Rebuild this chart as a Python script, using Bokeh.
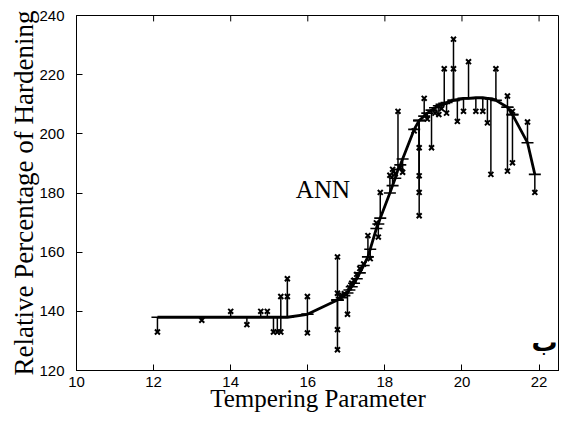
from bokeh.plotting import figure
from bokeh.models import Label, FixedTicker, Range1d, ColumnDataSource
from bokeh.embed import file_html
from bokeh.resources import INLINE

# Tempering parameter of each sample
temper_param = [12.10, 13.25, 14.00, 14.42, 14.78, 14.95, 15.11, 15.21, 15.30, 15.30,
                15.47, 15.47, 15.99, 15.99, 16.77, 16.77, 16.77, 16.77, 16.88, 16.95,
                17.03, 17.08, 17.14, 17.20, 17.27, 17.35, 17.45, 17.56, 17.62, 17.78,
                17.83, 17.88, 18.13, 18.20, 18.27, 18.34, 18.40, 18.46, 18.76, 18.89,
                18.89, 18.89, 18.89, 19.02, 19.10, 19.21, 19.30, 19.40, 19.47, 19.54,
                19.60, 19.78, 19.78, 19.88, 20.04, 20.17, 20.36, 20.54, 20.66, 20.75,
                20.88, 21.18, 21.18, 21.31, 21.31, 21.70, 21.89]
# Measured relative percentage of hardening
measured = [133.0, 137.0, 140.0, 135.5, 140.0, 140.0, 133.0, 133.0, 133.0, 145.0,
            145.0, 151.0, 145.0, 132.7, 158.4, 146.1, 133.8, 127.0, 145.5, 146.0,
            139.0, 148.0, 149.5, 150.5, 152.5, 154.5, 156.0, 165.6, 157.8, 169.9,
            165.1, 180.2, 186.0, 188.0, 186.5, 207.6, 188.5, 187.0, 201.0, 195.3,
            185.8, 180.2, 172.3, 212.0, 205.0, 195.3, 207.0, 206.5, 208.5, 222.0,
            207.0, 232.0, 222.0, 204.2, 207.6, 224.4, 207.6, 207.6, 203.7, 186.3,
            222.0, 212.8, 187.4, 190.2, 207.6, 204.0, 180.2]
# ANN predicted values
predicted = [138.0, 138.0, 138.0, 138.0, 138.0, 138.0, 138.0, 138.0, 138.0, 138.0,
             138.0, 138.0, 139.0, 139.0, 143.8, 143.8, 143.8, 143.8, 144.6, 145.3,
             146.2, 147.2, 148.3, 149.5, 151.0, 153.0, 155.5, 158.4, 161.0, 168.0,
             169.5, 171.5, 180.0, 182.5, 185.0, 188.0, 189.5, 191.5, 201.5, 204.5,
             204.5, 204.5, 204.5, 206.0, 207.0, 208.0, 208.8, 209.5, 210.0, 210.3,
             210.6, 211.3, 211.3, 211.6, 212.0, 212.0, 212.2, 212.2, 212.0, 211.8,
             211.3, 209.0, 209.0, 206.5, 206.5, 197.0, 186.3]

x_ticks = [10, 12, 14, 16, 18, 20, 22]
y_ticks = [120, 140, 160, 180, 200, 220, 240]

X0, X1, Y0, Y1 = 10, 22.53, 120, 240

src = ColumnDataSource(dict(x=temper_param, m=measured, p=predicted))

p = figure(width=559, height=414, output_backend="svg", toolbar_location=None,
           x_range=Range1d(X0, X1), y_range=Range1d(Y0, Y1),
           min_border_left=76, min_border_right=0, min_border_top=15, min_border_bottom=40)
p.background_fill_color = "white"
p.border_fill_color = "white"
p.outline_line_color = "black"
p.outline_line_width = 1
p.xgrid.visible = False
p.ygrid.visible = False

# residual lines
p.segment(x0="x", y0="m", x1="x", y1="p", source=src, line_color="black", line_width=1.5)
# ANN curve
p.line(x="x", y="p", source=src, line_color="black", line_width=2.8)
# predicted markers
p.scatter(x="x", y="p", source=src, marker="dash", size=12, line_color="black", line_width=1.6)
# measured markers
p.scatter(x="x", y="m", source=src, marker="x", size=7, line_color="black", line_width=2)

# inward ticks on the top edge of the box
p.segment(x0=x_ticks, y0=[Y1] * len(x_ticks), x1=x_ticks, y1=[Y1 - 2] * len(x_ticks),
          line_color="black", line_width=1)

for ax, ticks in ((p.xaxis[0], x_ticks), (p.yaxis[0], y_ticks)):
    ax.ticker = FixedTicker(ticks=ticks)
    ax.major_tick_in = 6
    ax.major_tick_out = 0
    ax.minor_tick_in = 0
    ax.minor_tick_out = 0
    ax.axis_line_color = "black"
    ax.major_tick_line_color = "black"
    ax.major_label_text_font = "Liberation Sans"
    ax.major_label_text_font_size = "15px"
    ax.major_label_text_color = "black"
    ax.axis_label_text_font = "Liberation Serif"
    ax.axis_label_text_font_style = "normal"
    ax.axis_label_text_color = "black"

p.xaxis.axis_label = "Tempering Parameter"
p.xaxis.axis_label_text_font_size = "25px"
p.xaxis.major_label_standoff = 6
p.xaxis.axis_label_standoff = -5
p.yaxis.axis_label = "Relative Percentage of Hardening"
p.yaxis.axis_label_text_font_size = "27px"
p.yaxis.major_label_standoff = 12
p.yaxis.axis_label_standoff = -3

p.add_layout(Label(x=15.69, y=181.3, text="ANN", text_font="Liberation Serif",
                   text_font_size="25px", text_color="black", text_baseline="alphabetic"))
p.add_layout(Label(x=22.14, y=129.5, text="ب", text_font="DejaVu Sans", text_font_style="bold",
                   text_font_size="26px", text_color="black", text_align="center",
                   text_baseline="middle"))

open("out.html", "w").write(file_html(p, INLINE))
